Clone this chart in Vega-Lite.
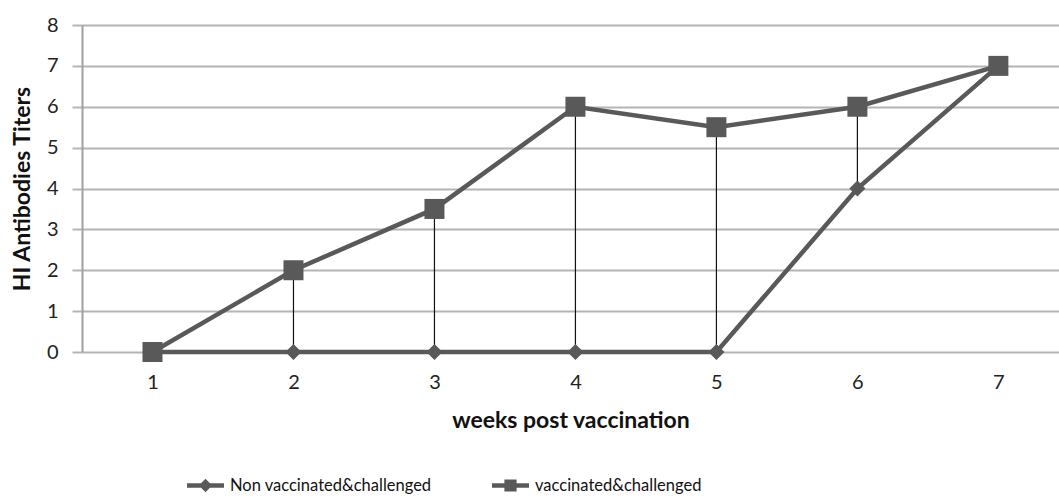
{
  "$schema": "https://vega.github.io/schema/vega-lite/v6.json",
  "width": 977,
  "height": 327,
  "autosize": {"type": "none"},
  "padding": {"left": 82, "top": 25, "right": 0, "bottom": 146},
  "background": "white",
  "config": {
    "font": "Lato",
    "view": {"stroke": null},
    "axis": {"labelFont": "Lato", "titleFont": "Lato", "labelColor": "#222", "titleColor": "#111"}
  },
  "data": {
    "values": [
      {"week": 1, "series": "Non vaccinated&challenged", "titer": 0},
      {"week": 2, "series": "Non vaccinated&challenged", "titer": 0},
      {"week": 3, "series": "Non vaccinated&challenged", "titer": 0},
      {"week": 4, "series": "Non vaccinated&challenged", "titer": 0},
      {"week": 5, "series": "Non vaccinated&challenged", "titer": 0},
      {"week": 6, "series": "Non vaccinated&challenged", "titer": 4},
      {"week": 7, "series": "Non vaccinated&challenged", "titer": 7},
      {"week": 1, "series": "vaccinated&challenged", "titer": 0},
      {"week": 2, "series": "vaccinated&challenged", "titer": 2},
      {"week": 3, "series": "vaccinated&challenged", "titer": 3.5},
      {"week": 4, "series": "vaccinated&challenged", "titer": 6},
      {"week": 5, "series": "vaccinated&challenged", "titer": 5.5},
      {"week": 6, "series": "vaccinated&challenged", "titer": 6},
      {"week": 7, "series": "vaccinated&challenged", "titer": 7}
    ]
  },
  "encoding": {
    "x": {
      "field": "week", "type": "quantitative",
      "scale": {"domain": [0.5, 7.43], "nice": false, "zero": false},
      "axis": {"values": [1,2,3,4,5,6,7], "title": "weeks post vaccination", "grid": false, "domain": false, "ticks": false,
        "labelFontSize": 20, "labelPadding": 20, "titleFontSize": 23, "titleFontWeight": "bold", "titlePadding": 17, "labelFlush": false}
    },
    "y": {
      "field": "titer", "type": "quantitative",
      "scale": {"domain": [0, 8], "nice": false},
      "axis": {"values": [0,1,2,3,4,5,6,7,8], "title": "HI Antibodies Titers", "grid": true, "gridColor": "#b4b4b4", "gridWidth": 2,
        "domainColor": "#a0a0a0", "domainWidth": 2, "tickColor": "#b4b4b4", "tickWidth": 2, "tickSize": 10,
        "labelFontSize": 20, "labelPadding": 14, "titleFontSize": 23, "titleFontWeight": "bold", "titlePadding": 12}
    }
  },
  "layer": [
    {
      "transform": [{"pivot": "series", "value": "titer", "groupby": ["week"]}],
      "mark": {"type": "rule", "color": "#111", "strokeWidth": 1.2},
      "encoding": {
        "y": {"field": "vaccinated&challenged", "type": "quantitative"},
        "y2": {"field": "Non vaccinated&challenged"}
      }
    },
    {
      "mark": {"type": "line", "strokeWidth": 4.5, "color": "#595959"},
      "encoding": {"detail": {"field": "series"}}
    },
    {
      "transform": [{"filter": "datum.series === 'Non vaccinated&challenged'"}],
      "mark": {"type": "point", "filled": true, "opacity": 1, "color": "#595959", "shape": "diamond", "size": 260}
    },
    {
      "transform": [{"filter": "datum.series === 'vaccinated&challenged'"}],
      "mark": {"type": "point", "filled": true, "opacity": 1, "color": "#595959", "shape": "square", "size": 400}
    },
    {
      "mark": {"type": "point", "filled": true, "opacity": 0},
      "encoding": {
        "color": {
          "field": "series", "type": "nominal",
          "scale": {"domain": ["Non vaccinated&challenged", "vaccinated&challenged"], "range": ["#595959", "#595959"]},
          "legend": {
            "title": null, "orient": "none", "direction": "horizontal", "legendX": 105, "legendY": 442,
            "labelFontSize": 16.5, "labelColor": "#111", "labelFont": "Lato", "labelLimit": 400, "symbolSize": 1369, "symbolOpacity": 1,
            "symbolStrokeWidth": 0, "labelOffset": 6, "columnPadding": 60
          }
        },
        "shape": {
          "field": "series", "type": "nominal",
          "scale": {"domain": ["Non vaccinated&challenged", "vaccinated&challenged"],
            "range": ["M-1,-0.12H1V0.12H-1Z M0,-0.36L0.36,0L0,0.36L-0.36,0Z", "M-1,-0.12H1V0.12H-1Z M-0.33,-0.33H0.33V0.33H-0.33Z"]},
          "legend": {
            "title": null, "orient": "none", "direction": "horizontal", "legendX": 105, "legendY": 442,
            "labelFontSize": 16.5, "labelColor": "#111", "labelFont": "Lato", "labelLimit": 400, "symbolSize": 1369, "symbolOpacity": 1,
            "symbolStrokeWidth": 0, "labelOffset": 6, "columnPadding": 60
          }
        }
      }
    }
  ]
}
